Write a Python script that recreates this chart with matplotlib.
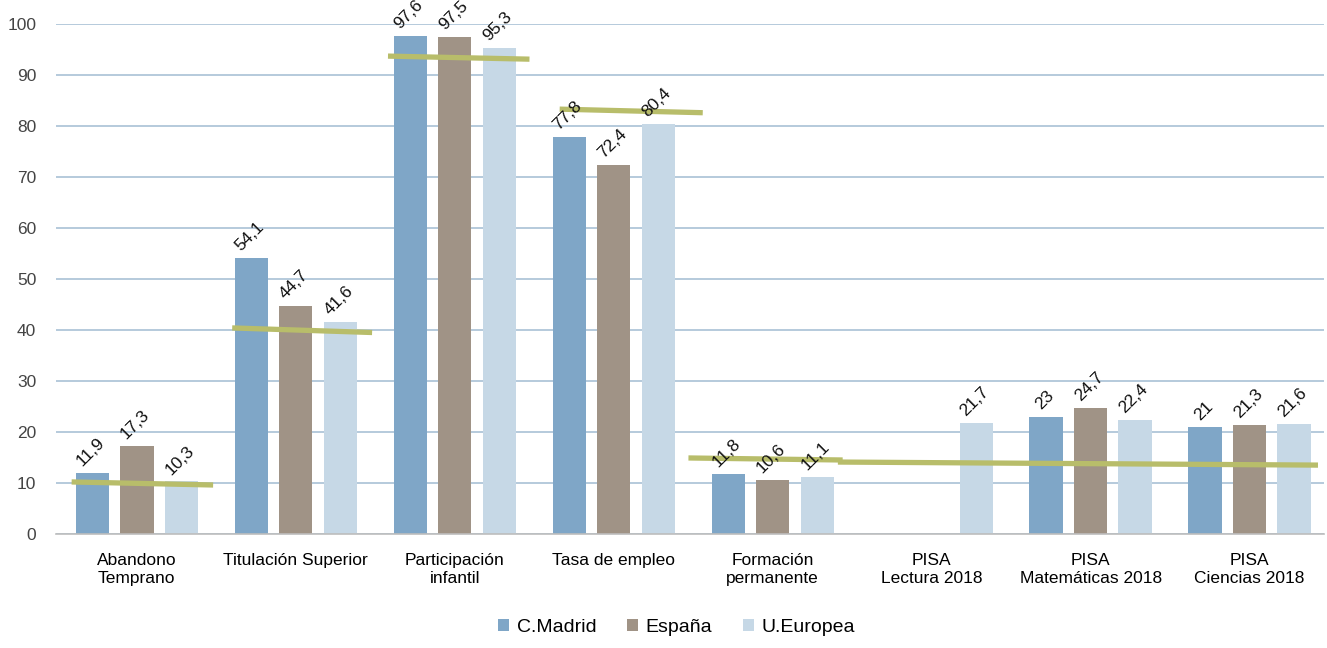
import numpy as np
import matplotlib
matplotlib.use("Agg")
import matplotlib.pyplot as plt

plt.rcParams['font.family'] = ['Liberation Sans Narrow', 'Liberation Sans', 'DejaVu Sans']

categorias = ["Abandono\nTemprano", "Titulación Superior", "Participación\ninfantil",
              "Tasa de empleo", "Formación\npermanente", "PISA\nLectura 2018",
              "PISA\nMatemáticas 2018", "PISA\nCiencias 2018"]
madrid = [11.9, 54.1, 97.6, 77.8, 11.8, np.nan, 23, 21]
espana = [17.3, 44.7, 97.5, 72.4, 10.6, np.nan, 24.7, 21.3]
ue = [10.3, 41.6, 95.3, 80.4, 11.1, 21.7, 22.4, 21.6]

# objetivos (lineas verdes): x inicio, x fin, y inicio, y fin
obj_x0 = [-0.41, 0.60, 1.58, 2.66, 3.47, 4.41]
obj_x1 = [0.48, 1.48, 2.47, 3.56, 4.44, 7.43]
obj_y0 = [10.2, 40.4, 93.7, 83.3, 14.9, 14.1]
obj_y1 = [9.6, 39.5, 93.1, 82.6, 14.5, 13.5]

series = [("C.Madrid", madrid, "#7fa6c7"),
          ("España", espana, "#a09386"),
          ("U.Europea", ue, "#c6d8e6")]

fig = plt.figure(figsize=(13.27, 6.48), dpi=100)
ax = fig.add_axes([0.042, 0.176, 0.956, 0.787])

x = np.arange(len(categorias))
w = 0.21
off = 0.28
for i, (nombre, vals, col) in enumerate(series):
    xs = x + (i - 1) * off
    ax.bar(xs, vals, width=w, color=col, label=nombre, zorder=2)
    for xi, v in zip(xs, vals):
        if np.isnan(v):
            continue
        txt = ("%g" % v).replace(".", ",")
        ax.annotate(txt, (xi, v), xytext=(-1, 3), textcoords="offset points",
                    rotation=45, ha="center", va="bottom", fontsize=12.5,
                    color="#111111", annotation_clip=False, zorder=4)

for a, b, c, d in zip(obj_x0, obj_x1, obj_y0, obj_y1):
    ax.plot([a, b], [c, d], color="#b8bd6a", lw=3.8, solid_capstyle="butt", zorder=3)

ax.set_ylim(0, 100)
ax.set_xlim(-0.51, 7.47)
ax.set_yticks(range(0, 101, 10))
ax.yaxis.grid(True, color="#a9c1d6", lw=1.2, zorder=0)
ax.set_axisbelow(True)
for s in ["top", "right", "left"]:
    ax.spines[s].set_visible(False)
ax.spines["bottom"].set_color("#bdbdbd")
ax.spines["bottom"].set_linewidth(1.2)
ax.tick_params(axis="y", length=0, pad=14, labelsize=12.5, labelcolor="#444444")
ax.tick_params(axis="x", length=0, pad=14, labelsize=12.5)
ax.set_xticks(x)
ax.set_xticklabels(categorias)

fig.legend(loc="lower center", bbox_to_anchor=(0.51, -0.008), ncol=3, frameon=False,
           fontsize=14, handlelength=0.55, handleheight=0.55, handletextpad=0.4,
           columnspacing=1.6)

fig.savefig("out.png", dpi=100)
